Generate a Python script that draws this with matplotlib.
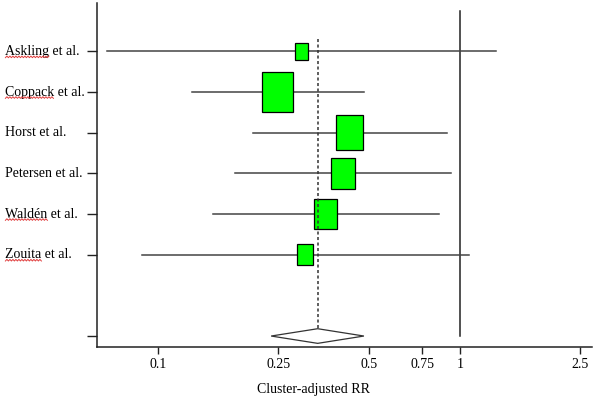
import numpy as np
import matplotlib
matplotlib.use('Agg')
import matplotlib.pyplot as plt
from matplotlib.patches import Rectangle, Polygon
from matplotlib.lines import Line2D
from matplotlib.transforms import blended_transform_factory

studies = ['Askling et al.', 'Coppack et al.', 'Horst et al.',
           'Petersen et al.', 'Waldén et al.', 'Zouita et al.']
# first word flagged by the spell checker in the original screenshot
spell_flag = [True, True, False, False, True, True]
rr = [0.299, 0.249, 0.431, 0.409, 0.359, 0.306]
ci_low = [0.068, 0.130, 0.207, 0.180, 0.152, 0.0885]
ci_high = [1.316, 0.480, 0.903, 0.936, 0.852, 1.074]
weights = [0.425, 0.99, 0.867, 0.762, 0.72, 0.508]
pooled_rr = 0.338
pooled_low = 0.237
pooled_high = 0.481
xticks = [0.1, 0.25, 0.5, 0.75, 1, 2.5]
xticklabels = ['0.1', '0.25', '0.5', '0.75', '1', '2.5']

plt.rcParams['font.family'] = ['Liberation Serif', 'DejaVu Serif']

fig = plt.figure(figsize=(6, 3.99), dpi=100)
ax = fig.add_axes([0.1617, 0.131, 0.825, 0.8615])

rows = np.arange(1, len(studies) + 1)
pooled_row = len(studies) + 2

# confidence intervals and weighted boxes
for i, y in enumerate(rows):
    ax.plot([ci_low[i], ci_high[i]], [y, y], color='#444444', lw=1.1,
            zorder=2)
    h = weights[i]
    # boxes are a bit narrower than tall, as in the original
    w = h * 0.77 * 40.7 / 302.
    x0 = rr[i] * 10 ** (-w / 2.)
    x1 = rr[i] * 10 ** (w / 2.)
    ax.add_patch(Rectangle((x0, y - h / 2.), x1 - x0, h, facecolor='#00ff00',
                           edgecolor='black', lw=0.9, zorder=3))

# null line
ax.plot([1, 1], [0, pooled_row], color='#222222', lw=1.1, zorder=1)

# pooled estimate
dh = 0.18
ax.plot([pooled_rr, pooled_rr], [0.7, pooled_row - dh], color='#333333',
        lw=1.1, linestyle=(0, (2, 1.6)), zorder=4)
ax.add_patch(Polygon([(pooled_low, pooled_row), (pooled_rr, pooled_row - dh),
                      (pooled_high, pooled_row), (pooled_rr, pooled_row + dh)],
                     closed=True, facecolor='white', edgecolor='#333333',
                     lw=0.9, zorder=3))

ax.set_xscale('log')
ax.set_xlim(0.0628, 2.74)
ax.set_ylim(8.263, -0.19)
ax.set_xticks(xticks)
ax.set_xticklabels(xticklabels)
ax.xaxis.set_minor_locator(matplotlib.ticker.NullLocator())
ax.set_yticks(list(rows) + [pooled_row])
ax.set_yticklabels([])
ax.tick_params(axis='x', length=5, width=1, labelsize=10, pad=3,
               colors='#222222', labelcolor='black')
ax.tick_params(axis='y', length=7, width=1, colors='#222222')

for side in ['top', 'right']:
    ax.spines[side].set_visible(False)
for side in ['left', 'bottom']:
    ax.spines[side].set_linewidth(1.1)
    ax.spines[side].set_color('#222222')

trans = blended_transform_factory(fig.transFigure, ax.transData)
for i, y in enumerate(rows):
    ax.text(0.009, y, studies[i], transform=trans, ha='left', va='center',
            fontsize=10)

ax.set_xlabel('Cluster-adjusted RR', fontsize=10)
ax.xaxis.set_label_coords(0.438, -0.105)

# red wavy spell-check underline under the flagged first words
fig.canvas.draw()
renderer = fig.canvas.get_renderer()
for i, y in enumerate(rows):
    if not spell_flag[i]:
        continue
    word = studies[i].split()[0]
    tmp = ax.text(0.009, y, word, transform=trans, ha='left', va='center',
                  fontsize=10)
    bb = tmp.get_window_extent(renderer)
    tmp.remove()
    xs = np.arange(bb.x0, bb.x1, 1.5)
    ys = bb.y0 + 1.0 + 0.8 * ((np.arange(len(xs)) % 2) * 2 - 1)
    fig.add_artist(Line2D(xs / fig.bbox.width, ys / fig.bbox.height,
                          transform=fig.transFigure, color='#e03c3c',
                          lw=0.7))

plt.savefig('out.png', dpi=100)
